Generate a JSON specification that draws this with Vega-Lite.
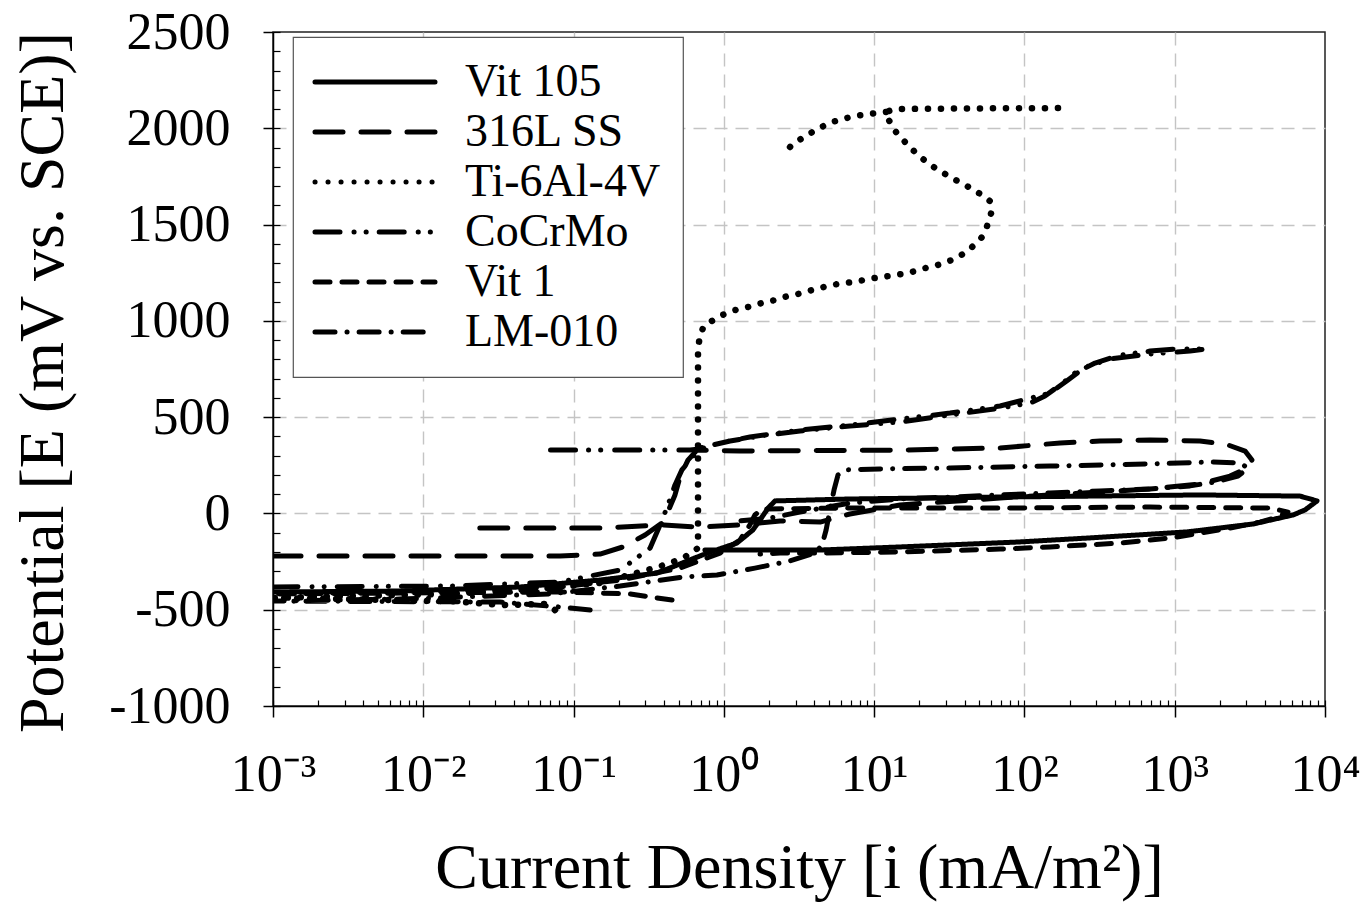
{
  "$schema": "https://vega.github.io/schema/vega-lite/v6.json",
  "width": 1052,
  "height": 674,
  "autosize": {"type": "none"},
  "padding": {"left": 273, "top": 32, "right": 44, "bottom": 196},
  "background": "white",
  "config": {
    "view": {"stroke": "#222", "strokeWidth": 1.5},
    "font": "Liberation Serif",
    "axis": {"labelFont": "Liberation Serif", "titleFont": "Liberation Serif", "labelColor": "black", "titleColor": "black", "tickColor": "black", "domainColor": "black", "titleFontWeight": "normal"},
    "legend": {"strokeWidth": 1.2}
  },
  "data": {"values": [
    {"series":"Vit 105","seg":"a","order":1,"i":0.001,"E":-408},
    {"series":"Vit 105","seg":"a","order":2,"i":0.007,"E":-403},
    {"series":"Vit 105","seg":"a","order":3,"i":0.0441,"E":-382},
    {"series":"Vit 105","seg":"a","order":4,"i":0.15,"E":-346},
    {"series":"Vit 105","seg":"a","order":5,"i":0.359,"E":-310},
    {"series":"Vit 105","seg":"a","order":6,"i":0.773,"E":-206},
    {"series":"Vit 105","seg":"a","order":7,"i":1.22,"E":-154},
    {"series":"Vit 105","seg":"a","order":8,"i":1.56,"E":-86},
    {"series":"Vit 105","seg":"a","order":9,"i":1.74,"E":-34},
    {"series":"Vit 105","seg":"a","order":10,"i":1.97,"E":28},
    {"series":"Vit 105","seg":"a","order":11,"i":2.19,"E":65},
    {"series":"Vit 105","seg":"a","order":12,"i":6.9,"E":75},
    {"series":"Vit 105","seg":"a","order":13,"i":68.9,"E":85},
    {"series":"Vit 105","seg":"a","order":14,"i":1472,"E":96},
    {"series":"Vit 105","seg":"a","order":15,"i":6823,"E":90},
    {"series":"Vit 105","seg":"a","order":16,"i":8851,"E":65},
    {"series":"Vit 105","seg":"a","order":17,"i":7362,"E":18},
    {"series":"Vit 105","seg":"a","order":18,"i":6124,"E":-8},
    {"series":"Vit 105","seg":"a","order":19,"i":3319,"E":-55},
    {"series":"Vit 105","seg":"a","order":20,"i":1208,"E":-96},
    {"series":"Vit 105","seg":"a","order":21,"i":261,"E":-128},
    {"series":"Vit 105","seg":"a","order":22,"i":93.5,"E":-148},
    {"series":"Vit 105","seg":"a","order":23,"i":14.9,"E":-174},
    {"series":"Vit 105","seg":"a","order":24,"i":4.37,"E":-190},
    {"series":"Vit 105","seg":"a","order":25,"i":0.748,"E":-190},

    {"series":"316L SS","seg":"a","order":1,"i":0.001,"E":-221},
    {"series":"316L SS","seg":"a","order":2,"i":0.0151,"E":-221},
    {"series":"316L SS","seg":"a","order":3,"i":0.0813,"E":-221},
    {"series":"316L SS","seg":"a","order":4,"i":0.15,"E":-211},
    {"series":"316L SS","seg":"a","order":5,"i":0.213,"E":-174},
    {"series":"316L SS","seg":"a","order":6,"i":0.299,"E":-112},
    {"series":"316L SS","seg":"a","order":7,"i":0.387,"E":-50},
    {"series":"316L SS","seg":"a","order":8,"i":0.425,"E":10},
    {"series":"316L SS","seg":"a","order":9,"i":0.473,"E":96},
    {"series":"316L SS","seg":"a","order":10,"i":0.511,"E":189},
    {"series":"316L SS","seg":"a","order":11,"i":0.577,"E":277},
    {"series":"316L SS","seg":"a","order":12,"i":0.662,"E":329},
    {"series":"316L SS","seg":"a","order":13,"i":1.28,"E":324},
    {"series":"316L SS","seg":"a","order":14,"i":14.9,"E":329},
    {"series":"316L SS","seg":"a","order":15,"i":68.9,"E":340},
    {"series":"316L SS","seg":"a","order":16,"i":173,"E":366},
    {"series":"316L SS","seg":"a","order":17,"i":318,"E":376},
    {"series":"316L SS","seg":"a","order":18,"i":685,"E":381},
    {"series":"316L SS","seg":"a","order":19,"i":1472,"E":376},
    {"series":"316L SS","seg":"a","order":20,"i":2163,"E":361},
    {"series":"316L SS","seg":"a","order":21,"i":2938,"E":324},
    {"series":"316L SS","seg":"a","order":22,"i":3266,"E":277},
    {"series":"316L SS","seg":"a","order":23,"i":2938,"E":231},
    {"series":"316L SS","seg":"a","order":24,"i":2333,"E":194},
    {"series":"316L SS","seg":"a","order":25,"i":1472,"E":153},
    {"series":"316L SS","seg":"a","order":26,"i":685,"E":127},
    {"series":"316L SS","seg":"a","order":27,"i":318,"E":111},
    {"series":"316L SS","seg":"a","order":28,"i":68.9,"E":80},
    {"series":"316L SS","seg":"a","order":29,"i":14.9,"E":44},
    {"series":"316L SS","seg":"a","order":30,"i":6.9,"E":-3},
    {"series":"316L SS","seg":"a","order":31,"i":4.37,"E":-45},
    {"series":"316L SS","seg":"a","order":32,"i":2.37,"E":-39},
    {"series":"316L SS","seg":"a","order":33,"i":1.28,"E":-60},
    {"series":"316L SS","seg":"a","order":34,"i":0.693,"E":-71},
    {"series":"316L SS","seg":"a","order":35,"i":0.387,"E":-60},
    {"series":"316L SS","seg":"a","order":36,"i":0.15,"E":-76},
    {"series":"316L SS","seg":"a","order":37,"i":0.0228,"E":-76},

    {"series":"Ti-6Al-4V","seg":"a","order":1,"i":0.0752,"E":-502},
    {"series":"Ti-6Al-4V","seg":"a","order":2,"i":0.0665,"E":-470},
    {"series":"Ti-6Al-4V","seg":"a","order":3,"i":0.0339,"E":-476},
    {"series":"Ti-6Al-4V","seg":"a","order":4,"i":0.0151,"E":-455},
    {"series":"Ti-6Al-4V","seg":"a","order":5,"i":0.001,"E":-439},
    {"series":"Ti-6Al-4V","seg":"a","order":6,"i":0.00325,"E":-429},
    {"series":"Ti-6Al-4V","seg":"a","order":7,"i":0.0151,"E":-418},
    {"series":"Ti-6Al-4V","seg":"a","order":8,"i":0.0697,"E":-387},
    {"series":"Ti-6Al-4V","seg":"a","order":9,"i":0.15,"E":-361},
    {"series":"Ti-6Al-4V","seg":"a","order":10,"i":0.277,"E":-304},
    {"series":"Ti-6Al-4V","seg":"a","order":11,"i":0.365,"E":-278},
    {"series":"Ti-6Al-4V","seg":"a","order":12,"i":0.439,"E":-258},
    {"series":"Ti-6Al-4V","seg":"a","order":13,"i":0.551,"E":-226},
    {"series":"Ti-6Al-4V","seg":"a","order":14,"i":0.673,"E":-180},
    {"series":"Ti-6Al-4V","seg":"a","order":15,"i":0.673,"E":70},
    {"series":"Ti-6Al-4V","seg":"a","order":16,"i":0.673,"E":329},
    {"series":"Ti-6Al-4V","seg":"a","order":17,"i":0.673,"E":589},
    {"series":"Ti-6Al-4V","seg":"a","order":18,"i":0.673,"E":849},
    {"series":"Ti-6Al-4V","seg":"a","order":19,"i":0.693,"E":926},
    {"series":"Ti-6Al-4V","seg":"a","order":20,"i":0.738,"E":974},
    {"series":"Ti-6Al-4V","seg":"a","order":21,"i":0.809,"E":994},
    {"series":"Ti-6Al-4V","seg":"a","order":22,"i":0.973,"E":1030},
    {"series":"Ti-6Al-4V","seg":"a","order":23,"i":1.19,"E":1056},
    {"series":"Ti-6Al-4V","seg":"a","order":24,"i":1.45,"E":1072},
    {"series":"Ti-6Al-4V","seg":"a","order":25,"i":1.79,"E":1093},
    {"series":"Ti-6Al-4V","seg":"a","order":26,"i":2.19,"E":1108},
    {"series":"Ti-6Al-4V","seg":"a","order":27,"i":2.67,"E":1129},
    {"series":"Ti-6Al-4V","seg":"a","order":28,"i":3.31,"E":1144},
    {"series":"Ti-6Al-4V","seg":"a","order":29,"i":4.04,"E":1165},
    {"series":"Ti-6Al-4V","seg":"a","order":30,"i":4.93,"E":1181},
    {"series":"Ti-6Al-4V","seg":"a","order":31,"i":6.11,"E":1196},
    {"series":"Ti-6Al-4V","seg":"a","order":32,"i":7.46,"E":1202},
    {"series":"Ti-6Al-4V","seg":"a","order":33,"i":9.1,"E":1217},
    {"series":"Ti-6Al-4V","seg":"a","order":34,"i":11.3,"E":1228},
    {"series":"Ti-6Al-4V","seg":"a","order":35,"i":13.8,"E":1238},
    {"series":"Ti-6Al-4V","seg":"a","order":36,"i":16.8,"E":1248},
    {"series":"Ti-6Al-4V","seg":"a","order":37,"i":20.5,"E":1269},
    {"series":"Ti-6Al-4V","seg":"a","order":38,"i":25.0,"E":1284},
    {"series":"Ti-6Al-4V","seg":"a","order":39,"i":30.5,"E":1305},
    {"series":"Ti-6Al-4V","seg":"a","order":40,"i":37.2,"E":1336},
    {"series":"Ti-6Al-4V","seg":"a","order":41,"i":44.8,"E":1383},
    {"series":"Ti-6Al-4V","seg":"a","order":42,"i":52.2,"E":1435},
    {"series":"Ti-6Al-4V","seg":"a","order":43,"i":56.4,"E":1492},
    {"series":"Ti-6Al-4V","seg":"a","order":44,"i":60.0,"E":1559},
    {"series":"Ti-6Al-4V","seg":"a","order":45,"i":59.0,"E":1622},
    {"series":"Ti-6Al-4V","seg":"a","order":46,"i":49.9,"E":1663},
    {"series":"Ti-6Al-4V","seg":"a","order":47,"i":41.5,"E":1700},
    {"series":"Ti-6Al-4V","seg":"a","order":48,"i":34.0,"E":1736},
    {"series":"Ti-6Al-4V","seg":"a","order":49,"i":28.3,"E":1772},
    {"series":"Ti-6Al-4V","seg":"a","order":50,"i":23.2,"E":1814},
    {"series":"Ti-6Al-4V","seg":"a","order":51,"i":19.3,"E":1866},
    {"series":"Ti-6Al-4V","seg":"a","order":52,"i":16.3,"E":1923},
    {"series":"Ti-6Al-4V","seg":"a","order":53,"i":14.0,"E":1980},
    {"series":"Ti-6Al-4V","seg":"a","order":54,"i":12.4,"E":2048},
    {"series":"Ti-6Al-4V","seg":"a","order":55,"i":12.0,"E":2085},
    {"series":"Ti-6Al-4V","seg":"a","order":56,"i":13.8,"E":2100},
    {"series":"Ti-6Al-4V","seg":"a","order":57,"i":40,"E":2103},
    {"series":"Ti-6Al-4V","seg":"a","order":58,"i":195,"E":2105},
    {"series":"Ti-6Al-4V","seg":"b","order":1,"i":12.0,"E":2085},
    {"series":"Ti-6Al-4V","seg":"b","order":2,"i":9.1,"E":2074},
    {"series":"Ti-6Al-4V","seg":"b","order":3,"i":7.57,"E":2064},
    {"series":"Ti-6Al-4V","seg":"b","order":4,"i":6.11,"E":2048},
    {"series":"Ti-6Al-4V","seg":"b","order":5,"i":5.01,"E":2027},
    {"series":"Ti-6Al-4V","seg":"b","order":6,"i":4.1,"E":1991},
    {"series":"Ti-6Al-4V","seg":"b","order":7,"i":3.41,"E":1955},
    {"series":"Ti-6Al-4V","seg":"b","order":8,"i":2.84,"E":1913},
    {"series":"Ti-6Al-4V","seg":"b","order":9,"i":2.4,"E":1856},

    {"series":"CoCrMo","seg":"a","order":1,"i":0.001,"E":-382},
    {"series":"CoCrMo","seg":"a","order":2,"i":0.0151,"E":-377},
    {"series":"CoCrMo","seg":"a","order":3,"i":0.0813,"E":-356},
    {"series":"CoCrMo","seg":"a","order":4,"i":0.204,"E":-294},
    {"series":"CoCrMo","seg":"a","order":5,"i":0.323,"E":-180},
    {"series":"CoCrMo","seg":"a","order":6,"i":0.376,"E":-60},
    {"series":"CoCrMo","seg":"a","order":7,"i":0.425,"E":44},
    {"series":"CoCrMo","seg":"a","order":8,"i":0.473,"E":148},
    {"series":"CoCrMo","seg":"a","order":9,"i":0.526,"E":226},
    {"series":"CoCrMo","seg":"a","order":10,"i":0.596,"E":277},
    {"series":"CoCrMo","seg":"a","order":11,"i":0.693,"E":340},
    {"series":"CoCrMo","seg":"a","order":12,"i":1.1,"E":376},
    {"series":"CoCrMo","seg":"a","order":13,"i":1.74,"E":402},
    {"series":"CoCrMo","seg":"a","order":14,"i":3.21,"E":428},
    {"series":"CoCrMo","seg":"a","order":15,"i":6.9,"E":454},
    {"series":"CoCrMo","seg":"a","order":16,"i":14.9,"E":475},
    {"series":"CoCrMo","seg":"a","order":17,"i":32.0,"E":511},
    {"series":"CoCrMo","seg":"a","order":18,"i":68.9,"E":547},
    {"series":"CoCrMo","seg":"a","order":19,"i":109,"E":573},
    {"series":"CoCrMo","seg":"a","order":20,"i":137,"E":610},
    {"series":"CoCrMo","seg":"a","order":21,"i":173,"E":667},
    {"series":"CoCrMo","seg":"a","order":22,"i":217,"E":729},
    {"series":"CoCrMo","seg":"a","order":23,"i":295,"E":781},
    {"series":"CoCrMo","seg":"a","order":24,"i":433,"E":822},
    {"series":"CoCrMo","seg":"a","order":25,"i":685,"E":843},
    {"series":"CoCrMo","seg":"a","order":26,"i":1005,"E":854},
    {"series":"CoCrMo","seg":"a","order":27,"i":1641,"E":854},
    {"series":"CoCrMo","seg":"a","order":28,"i":1265,"E":843},
    {"series":"CoCrMo","seg":"a","order":29,"i":685,"E":828},
    {"series":"CoCrMo","seg":"a","order":30,"i":371,"E":802},
    {"series":"CoCrMo","seg":"a","order":31,"i":253,"E":760},
    {"series":"CoCrMo","seg":"a","order":32,"i":195,"E":693},
    {"series":"CoCrMo","seg":"a","order":33,"i":148,"E":625},
    {"series":"CoCrMo","seg":"a","order":34,"i":68.9,"E":558},
    {"series":"CoCrMo","seg":"a","order":35,"i":32.0,"E":521},
    {"series":"CoCrMo","seg":"a","order":36,"i":14.9,"E":490},
    {"series":"CoCrMo","seg":"a","order":37,"i":6.9,"E":459},
    {"series":"CoCrMo","seg":"a","order":38,"i":3.21,"E":433},
    {"series":"CoCrMo","seg":"a","order":39,"i":1.49,"E":397},
    {"series":"CoCrMo","seg":"a","order":40,"i":0.942,"E":366},
    {"series":"CoCrMo","seg":"a","order":41,"i":0.693,"E":334},
    {"series":"CoCrMo","seg":"a","order":42,"i":0.596,"E":329},
    {"series":"CoCrMo","seg":"a","order":43,"i":0.0598,"E":329},

    {"series":"Vit 1","seg":"a","order":1,"i":0.452,"E":-450},
    {"series":"Vit 1","seg":"a","order":2,"i":0.237,"E":-418},
    {"series":"Vit 1","seg":"a","order":3,"i":0.0813,"E":-408},
    {"series":"Vit 1","seg":"a","order":4,"i":0.001,"E":-418},
    {"series":"Vit 1","seg":"a","order":5,"i":0.0151,"E":-403},
    {"series":"Vit 1","seg":"a","order":6,"i":0.0813,"E":-382},
    {"series":"Vit 1","seg":"a","order":7,"i":0.204,"E":-346},
    {"series":"Vit 1","seg":"a","order":8,"i":0.511,"E":-284},
    {"series":"Vit 1","seg":"a","order":9,"i":0.942,"E":-206},
    {"series":"Vit 1","seg":"a","order":10,"i":1.28,"E":-138},
    {"series":"Vit 1","seg":"a","order":11,"i":1.49,"E":-60},
    {"series":"Vit 1","seg":"a","order":12,"i":1.61,"E":-8},
    {"series":"Vit 1","seg":"a","order":13,"i":1.79,"E":23},
    {"series":"Vit 1","seg":"a","order":14,"i":6.9,"E":28},
    {"series":"Vit 1","seg":"a","order":15,"i":68.9,"E":28},
    {"series":"Vit 1","seg":"a","order":16,"i":685,"E":33},
    {"series":"Vit 1","seg":"a","order":17,"i":4305,"E":28},
    {"series":"Vit 1","seg":"a","order":18,"i":5675,"E":7},
    {"series":"Vit 1","seg":"a","order":19,"i":4864,"E":-19},
    {"series":"Vit 1","seg":"a","order":20,"i":3690,"E":-45},
    {"series":"Vit 1","seg":"a","order":21,"i":2333,"E":-76},
    {"series":"Vit 1","seg":"a","order":22,"i":1472,"E":-102},
    {"series":"Vit 1","seg":"a","order":23,"i":931,"E":-128},
    {"series":"Vit 1","seg":"a","order":24,"i":433,"E":-154},
    {"series":"Vit 1","seg":"a","order":25,"i":148,"E":-174},
    {"series":"Vit 1","seg":"a","order":26,"i":68.9,"E":-185},
    {"series":"Vit 1","seg":"a","order":27,"i":14.9,"E":-200},
    {"series":"Vit 1","seg":"a","order":28,"i":4.37,"E":-206},
    {"series":"Vit 1","seg":"a","order":29,"i":2.37,"E":-206},
    {"series":"Vit 1","seg":"a","order":30,"i":1.74,"E":-211},

    {"series":"LM-010","seg":"a","order":1,"i":0.129,"E":-502},
    {"series":"LM-010","seg":"a","order":2,"i":0.0813,"E":-486},
    {"series":"LM-010","seg":"a","order":3,"i":0.0324,"E":-460},
    {"series":"LM-010","seg":"a","order":4,"i":0.001,"E":-455},
    {"series":"LM-010","seg":"a","order":5,"i":0.007,"E":-445},
    {"series":"LM-010","seg":"a","order":6,"i":0.0697,"E":-418},
    {"series":"LM-010","seg":"a","order":7,"i":0.204,"E":-377},
    {"series":"LM-010","seg":"a","order":8,"i":0.535,"E":-330},
    {"series":"LM-010","seg":"a","order":9,"i":0.9,"E":-320},
    {"series":"LM-010","seg":"a","order":10,"i":1.61,"E":-284},
    {"series":"LM-010","seg":"a","order":11,"i":2.75,"E":-247},
    {"series":"LM-010","seg":"a","order":12,"i":4.04,"E":-206},
    {"series":"LM-010","seg":"a","order":13,"i":4.5,"E":-164},
    {"series":"LM-010","seg":"a","order":14,"i":4.79,"E":-86},
    {"series":"LM-010","seg":"a","order":15,"i":5.08,"E":18},
    {"series":"LM-010","seg":"a","order":16,"i":5.41,"E":122},
    {"series":"LM-010","seg":"a","order":17,"i":5.75,"E":200},
    {"series":"LM-010","seg":"a","order":18,"i":6.4,"E":226},
    {"series":"LM-010","seg":"a","order":19,"i":10.9,"E":231},
    {"series":"LM-010","seg":"a","order":20,"i":32.0,"E":236},
    {"series":"LM-010","seg":"a","order":21,"i":148,"E":246},
    {"series":"LM-010","seg":"a","order":22,"i":685,"E":257},
    {"series":"LM-010","seg":"a","order":23,"i":1718,"E":267},
    {"series":"LM-010","seg":"a","order":24,"i":2716,"E":262},
    {"series":"LM-010","seg":"a","order":25,"i":3076,"E":236},
    {"series":"LM-010","seg":"a","order":26,"i":2637,"E":194},
    {"series":"LM-010","seg":"a","order":27,"i":1854,"E":163},
    {"series":"LM-010","seg":"a","order":28,"i":1265,"E":143},
    {"series":"LM-010","seg":"a","order":29,"i":685,"E":127},
    {"series":"LM-010","seg":"a","order":30,"i":318,"E":117},
    {"series":"LM-010","seg":"a","order":31,"i":148,"E":106},
    {"series":"LM-010","seg":"a","order":32,"i":68.9,"E":96},
    {"series":"LM-010","seg":"a","order":33,"i":32.0,"E":85},
    {"series":"LM-010","seg":"a","order":34,"i":14.9,"E":75},
    {"series":"LM-010","seg":"a","order":35,"i":6.9,"E":54},
    {"series":"LM-010","seg":"a","order":36,"i":3.21,"E":7},
    {"series":"LM-010","seg":"a","order":37,"i":2.03,"E":-24},
    {"series":"LM-010","seg":"a","order":38,"i":1.28,"E":-39}
  ]},
  "layer": [
    {
      "mark": {"type": "point", "opacity": 0},
      "encoding": {
        "x": {"field": "i", "type": "quantitative", "scale": {"type": "log", "domain": [0.001, 10000], "nice": false},
          "axis": {"orient": "bottom", "values": [0.01, 0.1, 1, 10, 100, 1000], "labels": false, "ticks": false, "domain": false, "grid": true, "gridColor": "#c4c4c4", "gridDash": [13, 8], "gridWidth": 1.4, "title": null, "zindex": 0}},
        "y": {"field": "E", "type": "quantitative", "scale": {"domain": [-1000, 2500], "nice": false, "zero": false},
          "axis": {"orient": "left", "values": [-500, 0, 500, 1000, 1500, 2000], "labels": false, "ticks": false, "domain": false, "grid": true, "gridColor": "#c4c4c4", "gridDash": [13, 8], "gridWidth": 1.4, "title": null, "zindex": 0}}
      }
    },
    {
      "mark": {"type": "point", "opacity": 0},
      "encoding": {
        "x": {"field": "i", "type": "quantitative", "scale": {"type": "log", "domain": [0.001, 10000], "nice": false},
          "axis": {"orient": "bottom", "values": [0.001,0.002,0.003,0.004,0.005,0.006,0.007,0.008,0.009,0.01,0.02,0.03,0.04,0.05,0.06,0.07,0.08,0.09,0.1,0.2,0.3,0.4,0.5,0.6,0.7,0.8,0.9,1,2,3,4,5,6,7,8,9,10,20,30,40,50,60,70,80,90,100,200,300,400,500,600,700,800,900,1000,2000,3000,4000,5000,6000,7000,8000,9000,10000], "labels": false, "domain": false, "grid": false, "tickSize": -6, "tickWidth": 1.2, "title": null, "zindex": 1}},
        "y": {"field": "E", "type": "quantitative", "scale": {"domain": [-1000, 2500], "nice": false, "zero": false},
          "axis": {"orient": "left", "values": [-1000,-900,-800,-700,-600,-500,-400,-300,-200,-100,0,100,200,300,400,500,600,700,800,900,1000,1100,1200,1300,1400,1500,1600,1700,1800,1900,2000,2100,2200,2300,2400,2500], "labels": false, "domain": false, "grid": false, "tickSize": -7, "tickWidth": 1.2, "title": null, "zindex": 1}}
      }
    },
    {
      "mark": {"type": "line", "color": "black", "strokeWidth": 5, "strokeCap": "round", "strokeJoin": "round", "clip": true},
      "encoding": {
        "x": {"field": "i", "type": "quantitative", "scale": {"type": "log", "domain": [0.001, 10000], "nice": false},
          "axis": {"orient": "bottom", "values": [0.001, 0.01, 0.1, 1, 10, 100, 1000, 10000],
            "labelExpr": "['10⁻³','10⁻²','10⁻¹','10⁰','10¹','10²','10³','10⁴'][round(log(datum.value)/LN10)+3]",
            "labelFontSize": 52, "labelPadding": 32, "labelFlush": false, "labelOverlap": false, "labelBound": false,
            "tickSize": 11, "tickWidth": 1.5, "domainWidth": 1.5, "grid": false,
            "title": "Current Density [i (mA/m²)]", "titleFontSize": 64, "titleY": 181, "titleBaseline": "alphabetic", "zindex": 1}},
        "y": {"field": "E", "type": "quantitative", "scale": {"domain": [-1000, 2500], "nice": false, "zero": false},
          "axis": {"orient": "left", "values": [-1000, -500, 0, 500, 1000, 1500, 2000, 2500],
            "labelExpr": "'' + datum.value", "labelFontSize": 52, "labelPadding": 33, "labelOverlap": false, "labelBound": false,
            "tickSize": 10, "tickWidth": 1.5, "domainWidth": 1.5, "grid": false,
            "title": "Potential [E (mV vs. SCE)]", "titleFontSize": 64, "titleAngle": -90, "titleX": -230, "titleY": 350, "titleBaseline": "middle", "titleAlign": "center", "zindex": 1}},
        "strokeDash": {"field": "series", "type": "nominal",
          "scale": {"domain": ["Vit 105", "316L SS", "Ti-6Al-4V", "CoCrMo", "Vit 1", "LM-010"],
            "range": [[1, 0], [28, 18], [0.1, 12.9], [25, 14, 0.1, 12, 0.1, 13], [15, 12], [20, 12, 0.1, 12]]},
          "legend": {"orient": "none", "legendX": 20, "legendY": 5, "direction": "vertical", "title": null,
            "symbolType": "M-5,0H5", "symbolSize": 576, "symbolStrokeWidth": 5, "symbolStrokeColor": "black", "symbolOffset": 37,
            "rowPadding": 4, "padding": 22,
            "labelFont": "Liberation Serif", "labelFontSize": 46, "labelColor": "black", "labelOffset": 67, "labelLimit": 500,
            "strokeColor": "#555", "fillColor": "white",
            "encoding": {"symbols": {"strokeCap": {"value": "round"}}}}},
        "detail": {"field": "seg", "type": "nominal"},
        "order": {"field": "order", "type": "quantitative"}
      }
    },
    {
      "transform": [{"filter": "datum.series == 'Ti-6Al-4V'"}],
      "mark": {"type": "line", "color": "black", "strokeWidth": 6.5, "strokeCap": "round", "strokeDash": [0.1, 12.9], "clip": true},
      "encoding": {
        "x": {"field": "i", "type": "quantitative", "scale": {"type": "log", "domain": [0.001, 10000], "nice": false}, "axis": null},
        "y": {"field": "E", "type": "quantitative", "scale": {"domain": [-1000, 2500], "nice": false, "zero": false}, "axis": null},
        "detail": {"field": "seg", "type": "nominal"},
        "order": {"field": "order", "type": "quantitative"}
      }
    }
  ],
  "resolve": {"axis": {"x": "independent", "y": "independent"}}
}
